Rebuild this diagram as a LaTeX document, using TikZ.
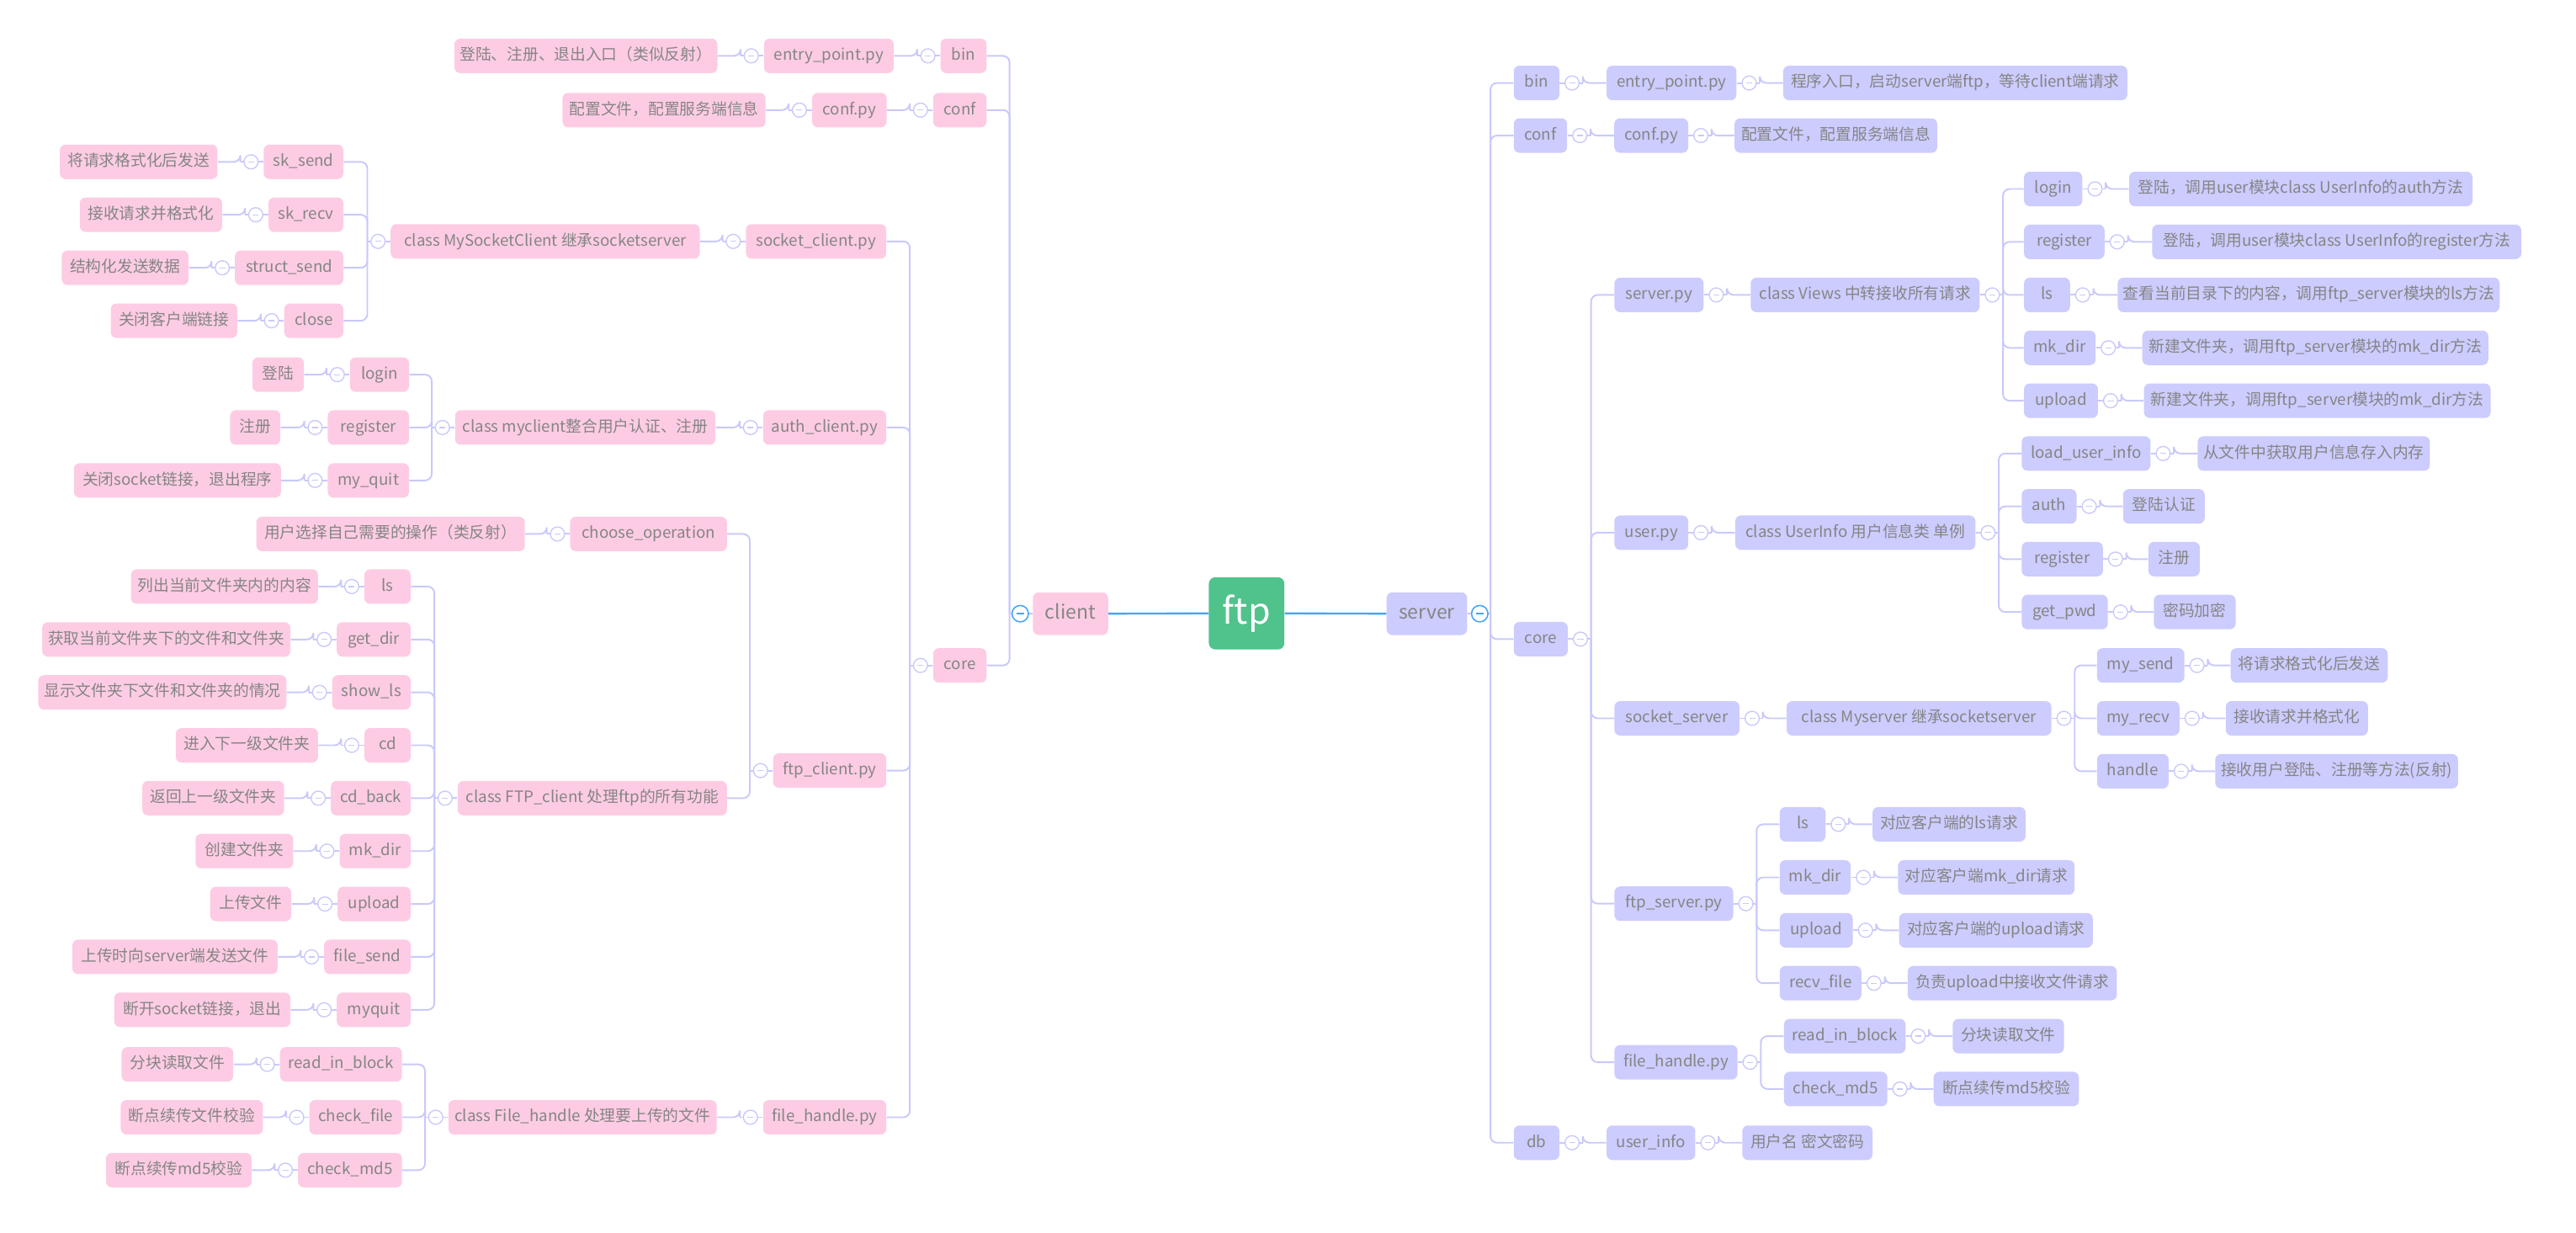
\documentclass[tikz,border=0pt]{standalone}
\usepackage{fontspec}
\setmainfont{Noto Sans CJK SC}
\definecolor{pinkC}{HTML}{FDCCE4}
\definecolor{lavC}{HTML}{CCCCFF}
\definecolor{lineC}{HTML}{C9C9FB}
\definecolor{txt}{HTML}{858585}
\definecolor{greenC}{HTML}{50C28B}
\definecolor{blueC}{HTML}{45A5F5}
\tikzset{
  box/.style={rounded corners=3.5pt, minimum height=21pt, inner xsep=1pt, inner ysep=0pt,
    text=txt, font=\fontsize{9.6}{11}\selectfont, text height=7.4pt, text depth=2pt},
  pk/.style={box, fill=pinkC},
  lv/.style={box, fill=lavC},
  pkbig/.style={pk, minimum height=26pt, font=\fontsize{11.8}{13}\selectfont, text height=8.7pt, text depth=2.5pt},
  lvbig/.style={lv, minimum height=26pt, font=\fontsize{11.8}{13}\selectfont, text height=8.7pt, text depth=2.5pt},
  ln/.style={draw=lineC, line width=1pt},
  bln/.style={draw=blueC, line width=1.2pt},
  btn/.style={circle, draw=lineC, fill=white, line width=0.7pt, minimum size=8.6pt, inner sep=0pt,
    path picture={\draw[lineC, line width=0.6pt] ([xshift=-1.8pt]path picture bounding box.center) -- ([xshift=1.8pt]path picture bounding box.center);}},
  bbtn/.style={circle, draw=blueC, fill=white, line width=0.8pt, minimum size=10pt, inner sep=0pt,
    path picture={\draw[blueC, line width=0.8pt] ([xshift=-2.3pt]path picture bounding box.center) -- ([xshift=2.3pt]path picture bounding box.center);}}
}
\newcommand\nd[6][pk]{\node[#1,minimum width={(#4-#3)*1pt}] (#2) at ({(#3+#4)/2},#5) {#6};}
\newcommand\cR[2]{\draw[ln] (#1.east) -- ++(14,0) coordinate (tt); \draw[ln,rounded corners=4pt] (tt) |- (#2.west);}
\newcommand\cL[2]{\draw[ln] (#1.west) -- ++(-14,0) coordinate (tt); \draw[ln,rounded corners=4pt] (tt) |- (#2.east);}
\newcommand\kidsR[2]{\foreach \c in {#2}{\cR{#1}{\c}}\node[btn] (b#1) at ([xshift=7.5pt]#1.east) {};}
\newcommand\kidsL[2]{\foreach \c in {#2}{\cL{#1}{\c}}\node[btn] (b#1) at ([xshift=-7.5pt]#1.west) {};}
\begin{document}
\begin{tikzpicture}[x=1pt,y=-1pt]
\useasboundingbox (0,0) rectangle (1568,750);
% centre
\node[fill=greenC, rounded corners=4pt, minimum width=46pt, minimum height=44pt, inner sep=0pt,
  text=white, font=\fontsize{22}{24}\selectfont] (ftp) at (758.8,373.3) {ftp};
% ---------------- client side ----------------
\nd[pkbig]{client}{628.7}{674.5}{373.5}{client}
\nd{lbin}{572.5}{600.5}{34}{bin}
\nd{lconf}{568}{600.5}{67}{conf}
\nd{lcore}{568}{600.5}{405}{core}
\nd{lentry}{465}{544}{34}{entry\_point.py}
\nd{lentryd}{276.6}{436.7}{34}{登陆、注册、退出入口（类似反射）}
\nd{lconfpy}{494.3}{539.7}{67}{conf.py}
\nd{lconfd}{342.4}{466}{67}{配置文件，配置服务端信息}
\nd{lsock}{454}{539.5}{146.9}{socket\_client.py}
\nd{lsockc}{237.8}{426}{146.9}{class MySocketClient 继承socketserver}
\nd{lsks}{160.5}{209}{98.5}{sk\_send}
\nd{lsksd}{36.4}{132.4}{98.5}{将请求格式化后发送}
\nd{lskr}{163.4}{209}{130.7}{sk\_recv}
\nd{lskrd}{48.6}{135.2}{130.7}{接收请求并格式化}
\nd{lsts}{143}{209}{163}{struct\_send}
\nd{lstsd}{37.6}{114.8}{163}{结构化发送数据}
\nd{lclose}{173}{209}{195.2}{close}
\nd{lclosed}{67.4}{144.5}{195.2}{关闭客户端链接}
\nd{lauth}{464.5}{539.5}{260.2}{auth\_client.py}
\nd{lauthc}{277}{435.5}{260.2}{class myclient整合用户认证、注册}
\nd{llogin}{213}{249}{228}{login}
\nd{llogind}{153.6}{185}{228}{登陆}
\nd{lreg}{199.5}{249}{260.2}{register}
\nd{lregd}{140}{170.7}{260.2}{注册}
\nd{lquit}{199.5}{249}{292.4}{my\_quit}
\nd{lquitd}{45}{171}{292.4}{关闭socket链接，退出程序}
\nd{lftp}{470.6}{539.5}{469}{ftp\_client.py}
\nd{lchoose}{347}{442.5}{325}{choose\_operation}
\nd{lchoosed}{156}{319.5}{325}{用户选择自己需要的操作（类反射）}
\nd{lftpc}{278.6}{442.5}{485.8}{class FTP\_client 处理ftp的所有功能}
\nd{lls}{221.8}{250}{357}{ls}
\nd{llsd}{79.7}{193.6}{357}{列出当前文件夹内的内容}
\nd{lgd}{205}{250}{389.2}{get\_dir}
\nd{lgdd}{25.7}{176.8}{389.2}{获取当前文件夹下的文件和文件夹}
\nd{lsl}{202.2}{250}{421.4}{show\_ls}
\nd{lsld}{23.3}{174.4}{421.4}{显示文件夹下文件和文件夹的情况}
\nd{lcd}{221.8}{250}{453.6}{cd}
\nd{lcdd}{107}{193.6}{453.6}{进入下一级文件夹}
\nd{lcdb}{201.4}{250}{485.8}{cd\_back}
\nd{lcdbd}{86.6}{173}{485.8}{返回上一级文件夹}
\nd{lmk}{206.7}{250}{518}{mk\_dir}
\nd{lmkd}{119}{178.5}{518}{创建文件夹}
\nd{lup}{205.5}{250}{550.2}{upload}
\nd{lupd}{127.9}{177.3}{550.2}{上传文件}
\nd{lfs}{197.3}{250}{582.4}{file\_send}
\nd{lfsd}{44}{169}{582.4}{上传时向server端发送文件}
\nd{lmq}{205}{250}{614.6}{myquit}
\nd{lmqd}{69.5}{176.8}{614.6}{断开socket链接，退出}
\nd{lfh}{464.5}{539.5}{680}{file\_handle.py}
\nd{lfhc}{272.9}{436.3}{680}{class File\_handle 处理要上传的文件}
\nd{lrib}{170.4}{244.7}{647.8}{read\_in\_block}
\nd{lribd}{74}{142}{647.8}{分块读取文件}
\nd{lcf}{188.3}{244.7}{680}{check\_file}
\nd{lcfd}{73.5}{160}{680}{断点续传文件校验}
\nd{lcm}{181.4}{244.7}{712.2}{check\_md5}
\nd{lcmd}{64.5}{153.2}{712.2}{断点续传md5校验}
% ---------------- server side ----------------
\nd[lvbig]{server}{844}{893}{373.5}{server}
\nd[lv]{rbin}{921.4}{949.2}{50.5}{bin}
\nd[lv]{rentry}{977.9}{1057}{50.5}{entry\_point.py}
\nd[lv]{rentryd}{1085.4}{1294.9}{50.5}{程序入口，启动server端ftp，等待client端请求}
\nd[lv]{rconf}{921.4}{953.9}{82.5}{conf}
\nd[lv]{rconfpy}{982.6}{1027.6}{82.5}{conf.py}
\nd[lv]{rconfd}{1055.8}{1179.2}{82.5}{配置文件，配置服务端信息}
\nd[lv]{rcore}{921.4}{954.3}{389}{core}
\nd[lv]{rdb}{921.4}{949.2}{695.5}{db}
\nd[lv]{ruinfo}{977.9}{1031.9}{695.5}{user\_info}
\nd[lv]{ruinfod}{1060.5}{1139.8}{695.5}{用户名 密文密码}
\nd[lv]{rserv}{982.7}{1037}{179.5}{server.py}
\nd[lv]{rviews}{1065.6}{1205}{179.5}{class Views 中转接收所有请求}
\nd[lv]{rvlogin}{1232}{1267.5}{115}{login}
\nd[lv]{rvlogind}{1296}{1505}{115}{登陆，调用user模块class UserInfo的auth方法}
\nd[lv]{rvreg}{1232}{1281}{147.2}{register}
\nd[lv]{rvregd}{1310}{1534.7}{147.2}{登陆，调用user模块class UserInfo的register方法}
\nd[lv]{rvls}{1232}{1260}{179.5}{ls}
\nd[lv]{rvlsd}{1289}{1521.5}{179.5}{查看当前目录下的内容，调用ftp\_server模块的ls方法}
\nd[lv]{rvmk}{1232}{1275.6}{211.7}{mk\_dir}
\nd[lv]{rvmkd}{1304}{1514.6}{211.7}{新建文件夹，调用ftp\_server模块的mk\_dir方法}
\nd[lv]{rvup}{1232}{1277}{243.9}{upload}
\nd[lv]{rvupd}{1305}{1516}{243.9}{新建文件夹，调用ftp\_server模块的mk\_dir方法}
\nd[lv]{ruser}{982.7}{1027.6}{324.2}{user.py}
\nd[lv]{ruserc}{1056.3}{1202.4}{324.2}{class UserInfo 用户信息类 单例}
\nd[lv]{rlui}{1230.6}{1309}{276}{load\_user\_info}
\nd[lv]{rluid}{1337.7}{1479}{276}{从文件中获取用户信息存入内存}
\nd[lv]{rauth}{1230.6}{1264}{308.2}{auth}
\nd[lv]{rauthd}{1292.3}{1342}{308.2}{登陆认证}
\nd[lv]{rureg}{1230.6}{1280}{340.3}{register}
\nd[lv]{runregd}{1307.7}{1339}{340.3}{注册}
\nd[lv]{rgp}{1230.6}{1283}{372.5}{get\_pwd}
\nd[lv]{rgpd}{1311}{1360.8}{372.5}{密码加密}
\nd[lv]{rsock}{982.7}{1058.8}{437.2}{socket\_server}
\nd[lv]{rsockc}{1087.5}{1248.6}{437.2}{class Myserver 继承socketserver}
\nd[lv]{rms}{1276.4}{1329.6}{405}{my\_send}
\nd[lv]{rmsd}{1357.8}{1453.4}{405}{将请求格式化后发送}
\nd[lv]{rmr}{1276.4}{1326.6}{437.2}{my\_recv}
\nd[lv]{rmrd}{1354.8}{1441.4}{437.2}{接收请求并格式化}
\nd[lv]{rhd}{1276.4}{1320}{469.4}{handle}
\nd[lv]{rhdd}{1348.4}{1496.2}{469.4}{接收用户登陆、注册等方法(反射)}
\nd[lv]{rfs}{982.7}{1055}{550}{ftp\_server.py}
\nd[lv]{rfls}{1083.3}{1111.2}{501.7}{ls}
\nd[lv]{rflsd}{1139.8}{1233}{501.7}{对应客户端的ls请求}
\nd[lv]{rfmk}{1083.3}{1126.5}{534}{mk\_dir}
\nd[lv]{rfmkd}{1155.3}{1262.8}{534}{对应客户端mk\_dir请求}
\nd[lv]{rfup}{1083.3}{1127.8}{566.2}{upload}
\nd[lv]{rfupd}{1156}{1273.9}{566.2}{对应客户端的upload请求}
\nd[lv]{rfrf}{1083.3}{1133}{598.4}{recv\_file}
\nd[lv]{rfrfd}{1161.2}{1288.5}{598.4}{负责upload中接收文件请求}
\nd[lv]{rfh}{982.7}{1057.6}{646.5}{file\_handle.py}
\nd[lv]{rrib}{1085.9}{1159.9}{630.6}{read\_in\_block}
\nd[lv]{rribd}{1188.6}{1256.3}{630.6}{分块读取文件}
\nd[lv]{rcm}{1085.9}{1148.8}{662.8}{check\_md5}
\nd[lv]{rcmd}{1177}{1265.4}{662.8}{断点续传md5校验}
% ---------------- connectors ----------------
\draw[bln] (client.east) -- (ftp.west);
\draw[bln] (ftp.east) -- (server.west);
\foreach \c in {lbin,lconf,lcore}{\cL{client}{\c}}
\node[bbtn] (bclient) at ([xshift=-7.5pt]client.west) {};
\foreach \c in {rbin,rconf,rcore,rdb}{\cR{server}{\c}}
\node[bbtn] (bserver) at ([xshift=7.5pt]server.east) {};
% client
\kidsL{lbin}{lentry}
\kidsL{lentry}{lentryd}
\kidsL{lconf}{lconfpy}
\kidsL{lconfpy}{lconfd}
\kidsL{lcore}{lsock,lauth,lftp,lfh}
\kidsL{lsock}{lsockc}
\kidsL{lsockc}{lsks,lskr,lsts,lclose}
\kidsL{lsks}{lsksd}
\kidsL{lskr}{lskrd}
\kidsL{lsts}{lstsd}
\kidsL{lclose}{lclosed}
\kidsL{lauth}{lauthc}
\kidsL{lauthc}{llogin,lreg,lquit}
\kidsL{llogin}{llogind}
\kidsL{lreg}{lregd}
\kidsL{lquit}{lquitd}
\kidsL{lftp}{lchoose,lftpc}
\kidsL{lchoose}{lchoosed}
\kidsL{lftpc}{lls,lgd,lsl,lcd,lcdb,lmk,lup,lfs,lmq}
\kidsL{lls}{llsd}
\kidsL{lgd}{lgdd}
\kidsL{lsl}{lsld}
\kidsL{lcd}{lcdd}
\kidsL{lcdb}{lcdbd}
\kidsL{lmk}{lmkd}
\kidsL{lup}{lupd}
\kidsL{lfs}{lfsd}
\kidsL{lmq}{lmqd}
\kidsL{lfh}{lfhc}
\kidsL{lfhc}{lrib,lcf,lcm}
\kidsL{lrib}{lribd}
\kidsL{lcf}{lcfd}
\kidsL{lcm}{lcmd}
% server
\kidsR{rbin}{rentry}
\kidsR{rentry}{rentryd}
\kidsR{rconf}{rconfpy}
\kidsR{rconfpy}{rconfd}
\kidsR{rdb}{ruinfo}
\kidsR{ruinfo}{ruinfod}
\kidsR{rcore}{rserv,ruser,rsock,rfs,rfh}
\kidsR{rserv}{rviews}
\kidsR{rviews}{rvlogin,rvreg,rvls,rvmk,rvup}
\kidsR{rvlogin}{rvlogind}
\kidsR{rvreg}{rvregd}
\kidsR{rvls}{rvlsd}
\kidsR{rvmk}{rvmkd}
\kidsR{rvup}{rvupd}
\kidsR{ruser}{ruserc}
\kidsR{ruserc}{rlui,rauth,rureg,rgp}
\kidsR{rlui}{rluid}
\kidsR{rauth}{rauthd}
\kidsR{rureg}{runregd}
\kidsR{rgp}{rgpd}
\kidsR{rsock}{rsockc}
\kidsR{rsockc}{rms,rmr,rhd}
\kidsR{rms}{rmsd}
\kidsR{rmr}{rmrd}
\kidsR{rhd}{rhdd}
\kidsR{rfs}{rfls,rfmk,rfup,rfrf}
\kidsR{rfls}{rflsd}
\kidsR{rfmk}{rfmkd}
\kidsR{rfup}{rfupd}
\kidsR{rfrf}{rfrfd}
\kidsR{rfh}{rrib,rcm}
\kidsR{rrib}{rribd}
\kidsR{rcm}{rcmd}
\end{tikzpicture}
\end{document}
